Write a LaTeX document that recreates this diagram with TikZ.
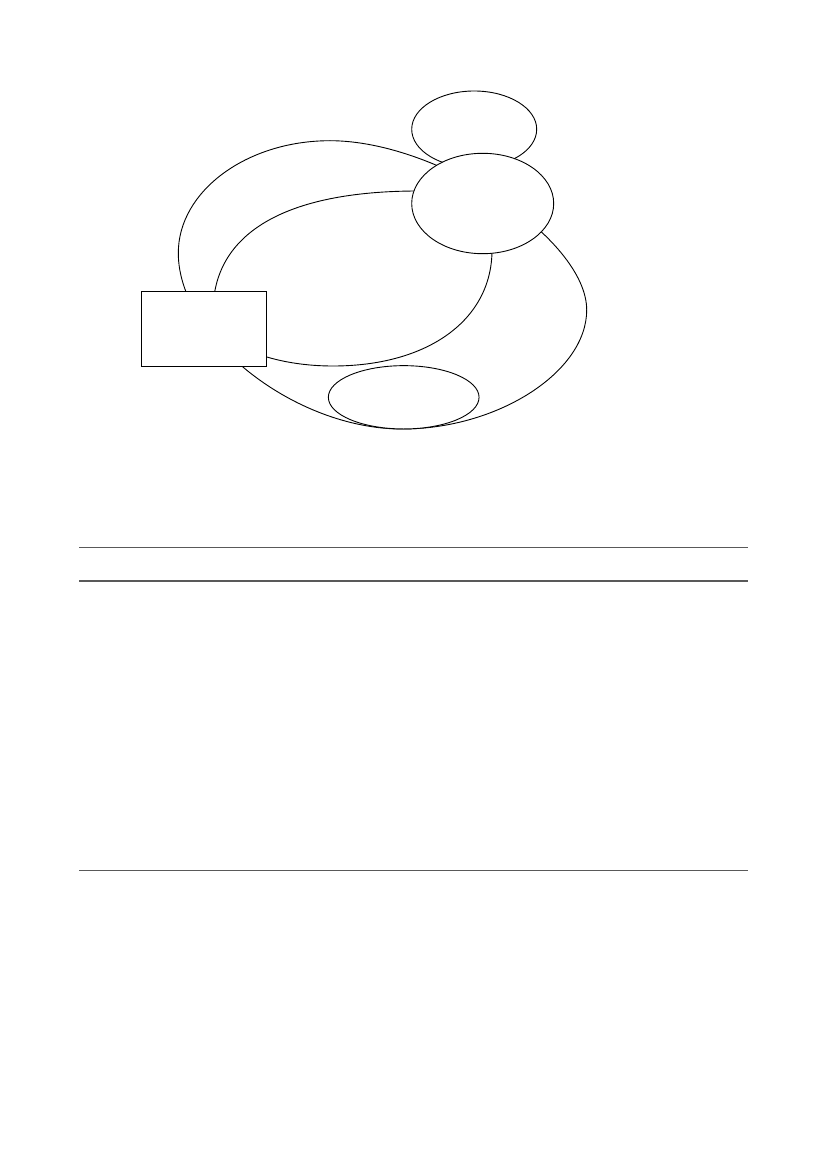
\documentclass[tikz,border=0pt]{standalone}
\usetikzlibrary{shapes.geometric}
\begin{document}
\begin{tikzpicture}[x=1pt,y=-1pt,
  outline/.style={draw=black,line width=0.9pt},
  blob/.style={outline,fill=white,ellipse,inner sep=0pt},
  panel/.style={outline,fill=white,rectangle,inner sep=0pt},
  rule/.style={draw=black!65,line width=1.1pt}]
\useasboundingbox[fill=white] (0,0) rectangle (827,1169);
% outer ring
\draw[outline] (330,140.7) .. controls (437.8,140.7) and (586.7,238.9) .. (586.7,310)
  .. controls (586.7,371.9) and (498,429) .. (402,429)
  .. controls (294.6,429) and (178.3,337.5) .. (178.3,253)
  .. controls (178.3,191.2) and (246.6,140.7) .. (330,140.7) -- cycle;
% inner ring
\draw[outline] (418,191) .. controls (458.7,191) and (492,217.6) .. (492,250)
  .. controls (492,319.6) and (428.4,366) .. (333,366)
  .. controls (267,366) and (213,341.7) .. (213,312)
  .. controls (213,233.4) and (284.7,191) .. (418,191) -- cycle;
\node[blob, minimum width=125pt, minimum height=76.6pt] (top) at (474.2,129.3) {};
\node[blob, minimum width=142pt, minimum height=100.4pt] (mid) at (482.7,203.5) {};
\node[blob, minimum width=150.7pt, minimum height=63.3pt] (low) at (403.7,397.3) {};
\node[panel, minimum width=125.4pt, minimum height=75pt] (box) at (204,328.5) {};
% rules
\coordinate (r1a) at (79,547.5); \coordinate (r1b) at (748,547.5);
\coordinate (r2a) at (79,581); \coordinate (r2b) at (748,581);
\coordinate (r3a) at (79,870.5); \coordinate (r3b) at (748,870.5);
\draw[rule] (r1a) -- (r1b);
\draw[rule] (r2a) -- (r2b);
\draw[rule] (r3a) -- (r3b);
\end{tikzpicture}
\end{document}
